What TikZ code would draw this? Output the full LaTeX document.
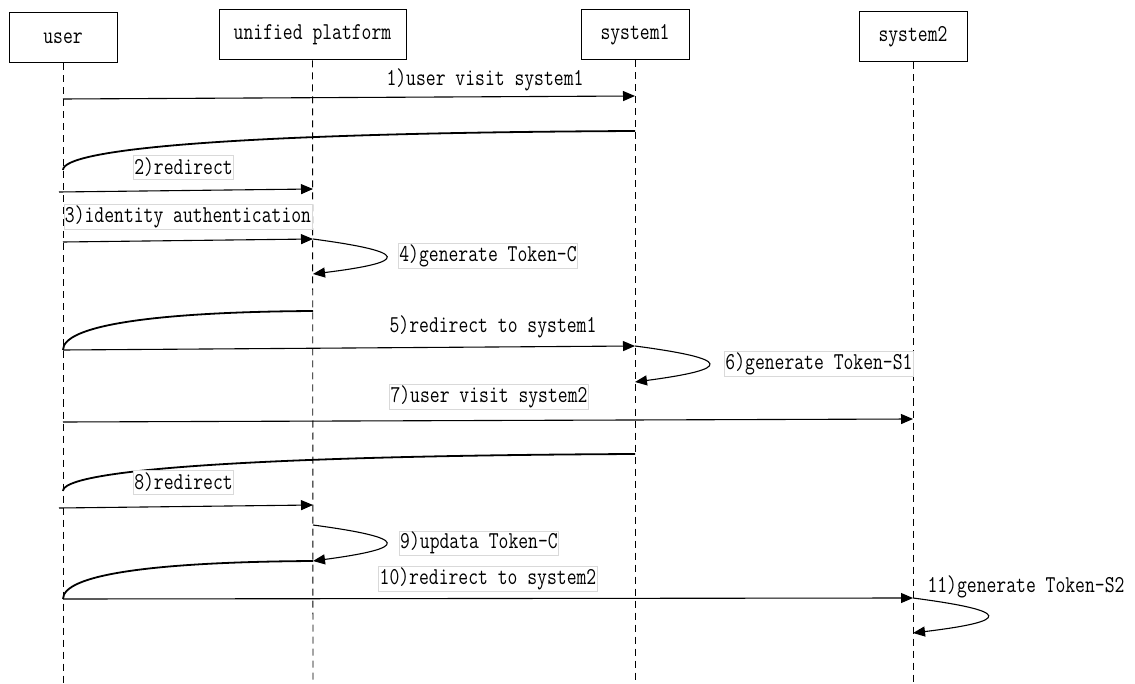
\documentclass[tikz,border=0pt]{standalone}
\usepackage{fontspec}
\setmainfont{Latin Modern Mono}[FakeStretch=0.79]
\usetikzlibrary{arrows.meta}

\begin{document}
\begin{tikzpicture}[x=1pt,y=-1pt,
    font=\fontsize{24.2}{28}\selectfont,
    actor/.style={draw,line width=1pt,minimum width=108pt,minimum height=50pt,inner sep=0pt},
    life/.style={dash pattern=on 7pt off 5pt,line width=0.9pt},
    msg/.style={line width=1.1pt,-{Triangle[length=12pt,width=10pt]}},
    back/.style={line width=1.8pt},
    lbl/.style={inner sep=1pt,minimum height=24pt},
    boxlbl/.style={lbl,draw=black!15,line width=0.8pt}]
  \useasboundingbox (0,0) rectangle (1135,684);

  % actors
  \node[actor] (user) at (63,38) {user};
  \node[actor,minimum width=187pt] (uni) at (312.5,35) {unified platform};
  \node[actor] (sys1) at (635,35) {system1};
  \node[actor] (sys2) at (913,37) {system2};

  % lifelines
  \coordinate (user-end) at (63,684);
  \coordinate (uni-end) at (313,684);
  \coordinate (sys1-end) at (635,684);
  \coordinate (sys2-end) at (913,684);
  \draw[life] (user) -- (user-end);
  \draw[life] (uni) -- (uni-end);
  \draw[life] (sys1) -- (sys1-end);
  \draw[life] (sys2) -- (sys2-end);

  % 1
  \node[lbl] (l1) at (485,80) {1)user visit system1};
  \coordinate (a1) at (63,99);
  \coordinate (b1) at (635,96);
  \draw[msg] (a1) -- (b1);

  % 2
  \coordinate (c2) at (635,131);
  \coordinate (d2) at (63,170);
  \draw[back] (c2) .. controls (220,133) and (63,150) .. (d2);
  \node[boxlbl] (l2) at (183.5,167) {2)redirect};
  \coordinate (a2) at (59,192);
  \coordinate (b2) at (313,189);
  \draw[msg] (a2) -- (b2);

  % 3
  \node[boxlbl] (l3) at (188,217) {3)identity authentication};
  \coordinate (a3) at (63,242);
  \coordinate (b3) at (313,239);
  \draw[msg] (a3) -- (b3);

  % 4
  \coordinate (e4) at (313,274);
  \draw[msg] (b3) .. controls (410,252) and (410,262) .. (e4);
  \node[boxlbl] (l4) at (488,256) {4)generate Token-C};

  % 5
  \coordinate (c5) at (313,311);
  \coordinate (a5) at (63,350);
  \coordinate (b5) at (635,346);
  \draw[back] (c5) .. controls (150,312) and (63,326) .. (a5);
  \node[lbl] (l5) at (493,327) {5)redirect to system1};
  \draw[msg] (a5) -- (b5);

  % 6
  \coordinate (e6) at (635,382);
  \draw[msg] (b5) .. controls (733,359) and (733,369) .. (e6);
  \node[boxlbl] (l6) at (819,364) {6)generate Token-S1};

  % 7
  \node[boxlbl] (l7) at (489,397) {7)user visit system2};
  \coordinate (a7) at (63,422);
  \coordinate (b7) at (913,419);
  \draw[msg] (a7) -- (b7);

  % 8
  \coordinate (c8) at (635,454);
  \coordinate (d8) at (63,491);
  \draw[back] (c8) .. controls (220,456) and (63,472) .. (d8);
  \node[boxlbl,fill=white] (l8) at (183.5,482) {8)redirect};
  \coordinate (a8) at (59,508);
  \coordinate (b8) at (313,505);
  \draw[msg] (a8) -- (b8);

  % 9
  \coordinate (s9) at (313,525);
  \coordinate (e9) at (313,561);
  \draw[msg] (s9) .. controls (410,538) and (410,548) .. (e9);
  \node[boxlbl] (l9) at (479,543) {9)updata Token-C};

  % 10
  \coordinate (a10) at (63,599);
  \coordinate (b10) at (913,598);
  \draw[back] (e9) .. controls (150,562) and (63,575) .. (a10);
  \node[boxlbl] (l10) at (488,579) {10)redirect to system2};
  \draw[msg] (a10) -- (b10);

  % 11
  \coordinate (e11) at (913,633);
  \draw[msg] (b10) .. controls (1012,611) and (1012,621) .. (e11);
  \node[lbl] (l11) at (1026,587) {11)generate Token-S2};
\end{tikzpicture}
\end{document}
